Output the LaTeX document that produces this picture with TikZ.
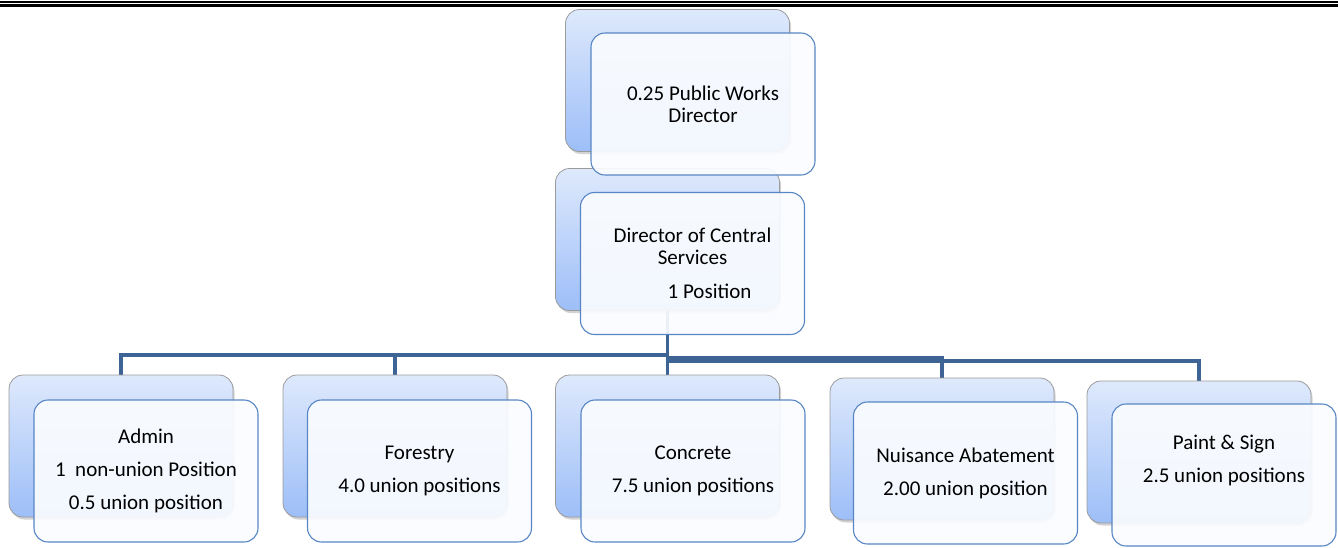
\documentclass[tikz,border=0pt]{standalone}
\usepackage{fontspec}
\setmainfont{Carlito}
\usetikzlibrary{shadows}
\pgfdeclarelayer{bg}
\pgfsetlayers{bg,main}
\definecolor{conn}{RGB}{62,100,150}
\definecolor{backtop}{RGB}{222,233,252}
\definecolor{backbot}{RGB}{157,190,248}
\definecolor{backline}{RGB}{155,155,155}
\definecolor{frontfill}{RGB}{250,252,255}
\definecolor{frontline}{RGB}{88,134,196}
\tikzset{
 backbox/.style={rectangle, rounded corners=14pt, minimum width=224pt, minimum height=142pt, inner sep=0pt,
   draw=backline, line width=0.8pt, top color=backtop, bottom color=backbot,
   drop shadow={shadow xshift=1.5pt, shadow yshift=-2.5pt, opacity=0.35}},
 frontbox/.style={rectangle, rounded corners=14pt, minimum width=224pt, minimum height=142pt, inner sep=0pt,
   draw=frontline, line width=1.1pt, fill=frontfill, fill opacity=0.92, text opacity=1, draw opacity=1,
   align=center, font=\fontsize{21}{22}\selectfont, text=black},
 connector/.style={draw=conn, line width=3.2pt},
 rule/.style={line width=2.3pt, black}
}
\begin{document}
\begin{tikzpicture}[x=1pt,y=-1pt]
\useasboundingbox (0,0) rectangle (1338,547);
% top double rule
\draw[rule] (0,1.8) -- (1338,1.8);
\draw[rule] (0,5.5) -- (1338,5.5);

% back boxes
\node[backbox] (tb) at (677.5,80.5) {};
\node[backbox] (mb) at (667.5,239.5) {};
\node[backbox] (ab) at (121,446) {};
\node[backbox] (fb) at (395,446) {};
\node[backbox] (cb) at (667.5,446) {};
\node[backbox] (nb) at (942,449) {};
\node[backbox] (pb) at (1199,452) {};

% front boxes
\node[frontbox] (tf) at (703,104) {0.25 Public Works\\Director};
\node[frontbox] (mf) at (692.5,263.5) {Director of Central\\Services\\[12pt]\hspace*{34pt}1 Position};
\node[frontbox] (af) at (146,471) {Admin\\[11pt]1\ \ non-union Position\\[11pt]0.5 union position};
\node[frontbox] (ff) at (419.5,471) {Forestry\\[11pt]4.0 union positions};
\node[frontbox] (cf) at (693,471) {Concrete\\[11pt]7.5 union positions};
\node[frontbox] (nf) at (965.5,473) {Nuisance Abatement\\[11pt]2.00 union position};
\node[frontbox] (pf) at (1224,475) {Paint \& Sign\\[11pt]2.5 union positions\\[11pt]\mbox{}};

% connectors
\coordinate (busA) at (0,355);
\coordinate (busN) at (0,357.5);
\coordinate (busP) at (0,361);
\begin{pgfonlayer}{bg}
\draw[connector] (mb.south) -- (mb.south |- busA) -| (ab.north);
\draw[connector] (mb.south |- busA) -| (fb.north);
\draw[connector] (mb.south) -- (cb.north);
\draw[connector] (mb.south |- busN) -| (nb.north);
\draw[connector] (mb.south |- busP) -| (pb.north);
\end{pgfonlayer}
\end{tikzpicture}
\end{document}
